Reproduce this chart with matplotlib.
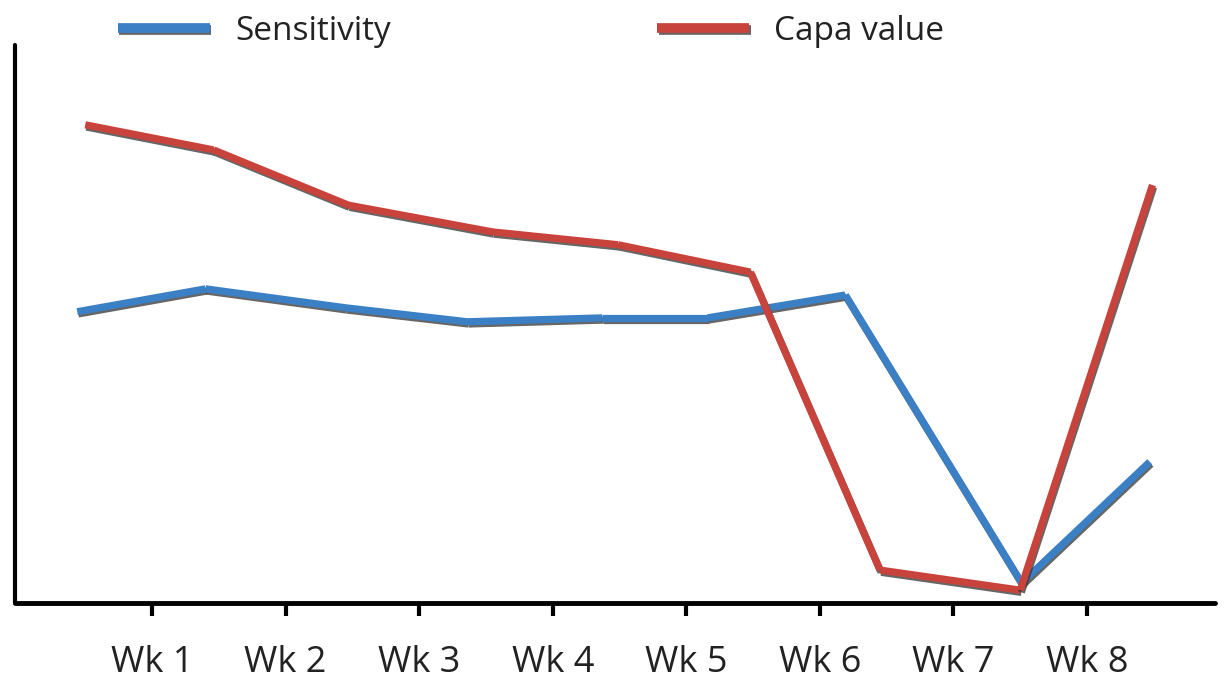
import matplotlib
matplotlib.use("Agg")
import matplotlib.pyplot as plt
import matplotlib.patheffects as pe

# week labels on the x axis
weeks = ["Wk 1", "Wk 2", "Wk 3", "Wk 4", "Wk 5", "Wk 6", "Wk 7", "Wk 8"]
week_pos = [1, 2, 3, 4, 5, 6, 7, 8]

# points are not placed on the ticks in the original, so keep x values too
sens_x = [0.44, 1.40, 2.45, 3.36, 4.37, 5.16, 6.19, 7.51, 8.47]
sens_y = [52.2, 56.3, 52.9, 50.4, 51.1, 51.1, 55.2, 3.6, 25.3]

capa_x = [0.50, 1.46, 2.47, 3.55, 4.49, 5.48, 6.45, 7.50, 8.49]
capa_y = [85.7, 81.2, 71.3, 66.5, 64.2, 59.3, 5.9, 2.3, 74.9]

blue = "#3b80c5"
red = "#c8433b"

plt.rcParams['font.family'] = ['Open Sans', 'DejaVu Sans']

fig = plt.figure(figsize=(12.25, 6.79), dpi=100)
ax = fig.add_axes([15 / 1225, 76 / 679, 1200 / 1225, 558 / 679])

shadow = [pe.SimpleLineShadow(offset=(0.8, -1.6), shadow_color="#333333", alpha=0.75), pe.Normal()]


def draw_series(xs, ys, color, label):
    # each segment drawn on its own, like the original
    for i in range(len(xs) - 1):
        ax.plot(xs[i:i + 2], ys[i:i + 2], color=color, lw=5.2,
                solid_capstyle="butt", path_effects=shadow,
                label=label if i == 0 else None)


draw_series(sens_x, sens_y, blue, "Sensitivity")
draw_series(capa_x, capa_y, red, "Capa value")

ax.set_xlim(-0.026, 8.958)
ax.set_ylim(0, 100)
ax.set_xticks(week_pos)
ax.set_xticklabels(weeks, fontsize=26, color="#222222")
ax.set_yticks([])
ax.tick_params(axis="x", direction="out", length=9, width=3, pad=21, color="black")

for s in ["top", "right"]:
    ax.spines[s].set_visible(False)
ax.spines["left"].set_linewidth(3)
ax.spines["bottom"].set_linewidth(3.5)
ax.spines["left"].set_capstyle("round")
ax.spines["bottom"].set_capstyle("round")

leg = fig.legend(loc="center left", bbox_to_anchor=(118 / 1225, 1 - 31 / 679),
                 ncol=2, frameon=False, fontsize=24, handlelength=2.76,
                 handletextpad=0.75, columnspacing=8.0, borderpad=0, borderaxespad=0)
for t in leg.get_texts():
    t.set_color("#222222")
for h in leg.get_lines():
    h.set_linewidth(7)

fig.savefig("out.png", dpi=100)
